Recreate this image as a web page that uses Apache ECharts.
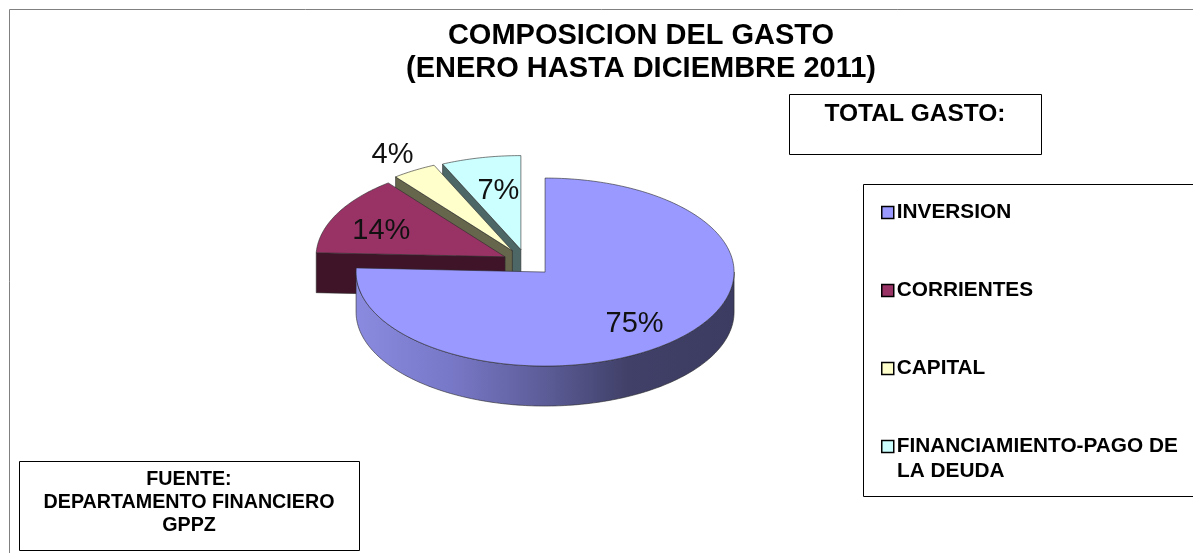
<!DOCTYPE html>
<html><head><meta charset="utf-8">
<style>html,body{margin:0;padding:0;background:#fff}#c{width:1193px;height:553px}</style>
<script src="https://cdn.jsdelivr.net/npm/echarts@6/dist/echarts.min.js"></script>
</head><body><div id="c"></div>
<script>
const categories = ['INVERSION','CORRIENTES','CAPITAL','FINANCIAMIENTO-PAGO DE'];
const values = [75.7,13.7,3.8,6.8];
const percentLabels = ['75%','14%','4%','7%'];
const topColors = ['#9999ff','#993366','#ffffcc','#ccffff'];
const wallColors = [null,'#401428','#66664c','#4d6666'];
const labelReach = [0.7,0.7,1.22,0.66];
const labelNudgeX = [-2,-6,0,4];
const labelNudgeY = [4,4,2,2];
const explodeBySlice = [27,24,27,26];
const stackOrder = [40,30,20,10];

const CX=526.4, CY=262.3, RX=189, RY=94, DEPTH=40;
const FONT='"Liberation Sans", Arial, sans-serif';
const total = values.reduce((a,b)=>a+b,0);
const rad = d=>d*Math.PI/180;
const pt=(c,a,f=1,dy=0)=>[c[0]+Math.sin(rad(a))*RX*f, c[1]-Math.cos(rad(a))*RY*f+dy];
const arc=(c,a0,a1,dy=0)=>{const p=[],n=Math.max(2,Math.ceil(Math.abs(a1-a0)));
  for(let i=0;i<=n;i++)p.push(pt(c,a0+(a1-a0)*i/n,1,dy));return p;};

function renderSlice(index){
  return function(params,api){
    const v=api.value(0);
    let before=0; for(let i=0;i<index;i++)before+=values[i];
    const a0=before/total*360, a1=a0+v/total*360, m=(a0+a1)/2;
    const e=explodeBySlice[index];
    const c=[CX+Math.sin(rad(m))*e, CY-Math.cos(rad(m))*e*0.5];
    const line={stroke:'#2a2a2a',lineWidth:0.6};
    const children=[];
    const wallFill=wallColors[index]||{type:'linear',x:c[0]-RX,y:0,x2:c[0]+RX,y2:0,global:true,
      colorStops:[{offset:0,color:'#8a8ae0'},{offset:0.25,color:'#7878c8'},{offset:0.5,color:'#5c5c98'},{offset:0.72,color:'#404068'},{offset:1,color:'#3c3c62'}]};
    const radial=a=>{const o=pt(c,a);children.push({type:'polygon',shape:{points:[c,o,[o[0],o[1]+DEPTH],[c[0],c[1]+DEPTH]]},style:{fill:wallFill,...line}});};
    if(Math.sin(rad(a0))<-1e-6)radial(a0);
    if(Math.sin(rad(a1))>1e-6)radial(a1);
    const w0=Math.max(a0,90), w1=Math.min(a1,270);
    if(w1>w0){
      const t=arc(c,w0,w1), b=arc(c,w1,w0,DEPTH);
      children.push({type:'polygon',shape:{points:t.concat(b)},style:{fill:wallFill,...line}});
    }
    children.push({type:'polygon',shape:{points:[c].concat(arc(c,a0,a1))},style:{fill:api.visual('color'),...line}});
    const l=pt(c,m,labelReach[index]);
    children.push({type:'text',style:{x:l[0]+labelNudgeX[index],y:l[1]+labelNudgeY[index],text:percentLabels[index],fill:'#111',font:'29px '+FONT,align:'center',verticalAlign:'middle'}});
    return {type:'group',children};
  };
}

const box=(x,y,w,h)=>({type:'rect',silent:true,z:1,shape:{x:x+0.5,y:y+0.5,width:w,height:h},style:{fill:'#fff',stroke:'#000',lineWidth:1}});
const txt=(x,y,t,size,align)=>({type:'text',silent:true,z:5,style:{x,y,text:t,fill:'#000',font:'bold '+size+'px '+FONT,align:align||'center',verticalAlign:'middle'}});

const chart=echarts.init(document.getElementById('c'),null,{renderer:'canvas'});
chart.setOption({
  animation:false,
  backgroundColor:'#fff',
  title:{text:'COMPOSICION DEL GASTO\n(ENERO HASTA DICIEMBRE 2011)',left:641,top:19,textAlign:'center',padding:0,
    textStyle:{fontFamily:FONT,fontWeight:'bold',fontSize:29,lineHeight:33,color:'#000'}},
  legend:{orient:'vertical',left:881,top:202,padding:0,itemWidth:12,itemHeight:12,itemGap:57,selectedMode:false,icon:'rect',
    data:categories,
    itemStyle:{borderColor:'#000',borderWidth:1.5},
    textStyle:{fontFamily:FONT,fontWeight:'bold',fontSize:20.8,lineHeight:20,color:'#000',padding:[0,0,0,-2]}},
  graphic:[
    {type:'rect',silent:true,z:0,shape:{x:9.5,y:9.5,width:1200,height:560},style:{fill:'#fff',stroke:'#808080',lineWidth:1}},
    box(789,94,252,60), box(863,184,340,312), box(19,461,340,89),
    txt(915,114,'TOTAL GASTO:',24.5),
    txt(189,480,'FUENTE:',19.7), txt(189,503,'DEPARTAMENTO FINANCIERO',19.7), txt(189,526,'GPPZ',19.7),
    txt(897,471,'LA DEUDA',20.8,'left')
  ],
  series:categories.map((name,i)=>({
    type:'custom',name,coordinateSystem:'none',z:stackOrder[i],
    itemStyle:{color:topColors[i]},
    renderItem:renderSlice(i),
    data:[[values[i]]]
  }))
});
</script></body></html>
